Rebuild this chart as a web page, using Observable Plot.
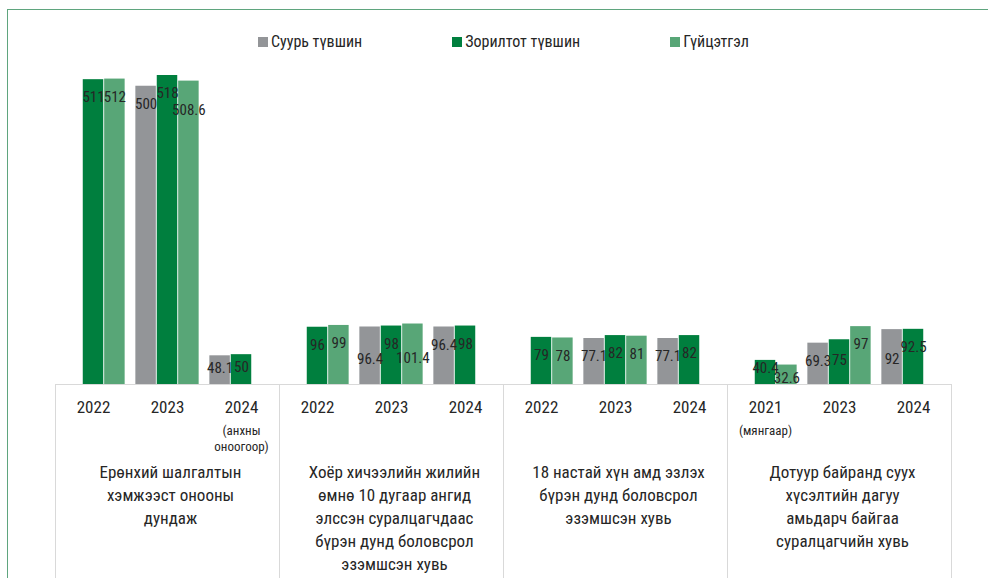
<!DOCTYPE html>
<html><head><meta charset="utf-8">
<script src="https://cdn.jsdelivr.net/npm/d3@7"></script>
<script src="https://cdn.jsdelivr.net/npm/@observablehq/plot@0.6"></script>
<style>
html,body{margin:0;padding:0;background:#fff;width:988px;height:578px;overflow:hidden;}
body{position:relative;font-family:"Roboto Condensed","Liberation Sans Narrow","DejaVu Sans Condensed",Roboto,sans-serif;}
#legend{height:62px;display:flex;align-items:flex-start;padding-left:258px;box-sizing:border-box;padding-top:33px;gap:90px;}
.item{display:flex;align-items:center;font-size:16px;color:#262626;line-height:18px;}
.sw{width:10px;height:10px;margin-right:3px;}
#border{position:absolute;left:6.5px;top:9px;width:1000px;height:600px;border-left:1.5px solid #5fa57e;border-top:1.5px solid #5fa57e;pointer-events:none;}
</style></head>
<body>
<div id="legend"></div>
<div id="chart"></div>
<div id="border"></div>
<script>
const groups = [
  "Ерөнхий шалгалтын\nхэмжээст онооны\nдундаж",
  "Хоёр хичээлийн жилийн\nөмнө 10 дугаар ангид\nэлссэн суралцагчдаас\nбүрэн дунд боловсрол\nэзэмшсэн хувь",
  "18 настай хүн амд эзлэх\nбүрэн дунд боловсрол\nэзэмшсэн хувь",
  "Дотуур байранд суух\nхүсэлтийн дагуу\nамьдарч байгаа\nсуралцагчийн хувь"
];
const years = [["2022","2023","2024"],["2022","2023","2024"],["2022","2023","2024"],["2021","2023","2024"]];
const yearNotes = [["","","(анхны\nоноогоор)"],["","",""],["","",""],["(мянгаар)","",""]];
const seriesNames = ["Суурь түвшин","Зорилтот түвшин","Гүйцэтгэл"];
const seriesColors = ["#939598","#007f3e","#58a677"];
const baseLevel = [[null,500,48.1],[null,96.4,96.4],[null,77.1,77.1],[null,69.3,92]];
const targetLevel = [[511,518,50],[96,98,98],[79,82,82],[40.4,75,92.5]];
const performance = [[512,508.6,null],[99,101.4,null],[78,81,null],[32.6,97,null]];

// style: extra vertical nudge (px) of a few value labels, as in the original
const labelNudge = {"0-1-2":11,"1-1-0":14,"1-1-2":16,"3-2-0":12,"0-2-0":-5,"0-2-1":-5,"3-0-1":-10,"3-0-2":-5,"3-1-1":3};

const seriesData = [baseLevel, targetLevel, performance];
const rows = [];
groups.forEach((g, gi) => years[gi].forEach((yr, yi) => seriesData.forEach((arr, si) => {
  const v = arr[gi][yi];
  if (v != null) rows.push({group: g, slot: String(yi), series: si, value: v, nudge: labelNudge[`${gi}-${yi}-${si}`] || 0});
})));
const yearRows = [];
groups.forEach((g, gi) => years[gi].forEach((yr, yi) => yearRows.push({group: g, slot: String(yi), year: yr, note: yearNotes[gi][yi]})));

// legend
const legend = document.getElementById("legend");
seriesNames.forEach((n, i) => {
  const it = document.createElement("div"); it.className = "item";
  const sw = document.createElement("span"); sw.className = "sw"; sw.style.background = seriesColors[i];
  it.appendChild(sw); it.appendChild(document.createTextNode(n));
  legend.appendChild(it);
});

const W = 988, H = 516, mL = 53, mR = 36, mT = 13, baseY = 322;
const facetW = (W - mL - mR) / groups.length;
const slotW = facetW / 3;
const barW = slotW / 3.5, pad = barW / 4;
const fontFamily = '"Roboto Condensed","Liberation Sans Narrow","DejaVu Sans Condensed",Roboto,sans-serif';
const ink = "#262626";

const marks = [
  Plot.frame({stroke: "#d9d9d9", insetTop: baseY - mT, insetBottom: -3})
];
seriesNames.forEach((name, si) => {
  marks.push(Plot.barY(rows.filter(r => r.series === si), {
    fx: "group", x: "slot", y: "value", fill: seriesColors[si],
    insetLeft: pad + si * barW, insetRight: slotW - pad - (si + 1) * barW
  }));
});
seriesNames.forEach((name, si) => {
  const sub = rows.filter(r => r.series === si);
  const nudges = [...new Set(sub.map(r => r.nudge))];
  nudges.forEach(n => {
    marks.push(Plot.text(sub.filter(r => r.nudge === n), {
      fx: "group", x: "slot", y: "value", text: d => String(d.value),
      dx: (si - 1) * barW, dy: 12 + n, lineAnchor: "top", fontSize: 15, fill: ink
    }));
  });
});
marks.push(Plot.text(yearRows, {fx: "group", x: "slot", y: 0, text: "year", lineAnchor: "top", dy: 16, fontSize: 17, fill: ink}));
marks.push(Plot.text(yearRows.filter(d => d.note), {fx: "group", x: "slot", y: 0, text: "note", lineAnchor: "top", dy: 39, fontSize: 13, lineHeight: 1.25, fill: ink}));
marks.push(Plot.text(groups, {fx: d => d, y: 0, text: d => d, lineAnchor: "top", dy: 77, dx: 3, fontSize: 17, lineHeight: 1.36, fill: ink}));

const chart = Plot.plot({
  width: W, height: H,
  marginLeft: mL, marginRight: mR, marginTop: mT, marginBottom: 0,
  style: {fontFamily, background: "transparent"},
  fx: {domain: groups, padding: 0, axis: null},
  x: {domain: ["0","1","2"], padding: 0, axis: null},
  y: {domain: [0, 518], range: [baseY, mT], axis: null},
  marks
});
document.getElementById("chart").appendChild(chart);
</script>
</body></html>
